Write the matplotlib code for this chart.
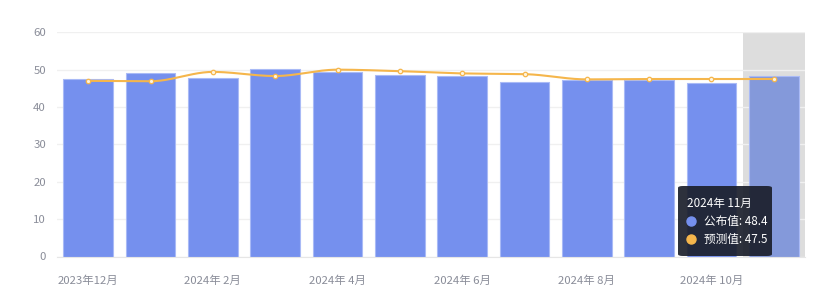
import numpy as np
import matplotlib
matplotlib.use("Agg")
import matplotlib.pyplot as plt
from matplotlib.patches import FancyBboxPatch

plt.rcParams['font.family'] = ['Noto Sans CJK SC', 'DejaVu Sans']

# 数据
months = ["2023年12月", "2024年 1月", "2024年 2月", "2024年 3月", "2024年 4月", "2024年 5月",
          "2024年 6月", "2024年 7月", "2024年 8月", "2024年 9月", "2024年 10月", "2024年 11月"]
actual = [47.4, 49.1, 47.8, 50.3, 49.3, 48.6, 48.4, 46.8, 47.2, 47.2, 46.4, 48.4]
forecast = [47.0, 46.9, 49.4, 48.3, 50.0, 49.6, 49.0, 48.8, 47.4, 47.5, 47.5, 47.5]
yticks = [0, 10, 20, 30, 40, 50, 60]

W, H = 831, 305
fig = plt.figure(figsize=(W / 100, H / 100), dpi=100)
ax = fig.add_axes([57 / W, (H - 256.5) / H, (805 - 57) / W, (256.5 - 32.3) / H])

x = np.arange(len(months))
hl = len(months) - 1  # 高亮的月份

# 阴影指示
ax.axvspan(hl - 0.5, hl + 0.5, color='#dddddd', zorder=0, lw=0)

bar_colors = ['#7590ee'] * len(months)
bar_colors[hl] = '#8499da'
ax.bar(x, actual, width=0.8, color=bar_colors, edgecolor='#a9baf6', linewidth=0.8, zorder=2)

# 平滑曲线 (单调三次 Hermite)
xs = np.linspace(0, len(months) - 1, 400)
f = np.array(forecast)
d = np.zeros_like(f)
for i in range(1, len(f) - 1):
    a, b = f[i] - f[i - 1], f[i + 1] - f[i]
    d[i] = 0 if a * b <= 0 else 2 * a * b / (a + b)
ys = []
for t in xs:
    i = min(int(t), len(f) - 2)
    s = t - i
    h00 = 2 * s**3 - 3 * s**2 + 1
    h10 = s**3 - 2 * s**2 + s
    h01 = -2 * s**3 + 3 * s**2
    h11 = s**3 - s**2
    ys.append(h00 * f[i] + h10 * d[i] + h01 * f[i + 1] + h11 * d[i + 1])
ax.plot(xs, ys, color='#f5b64c', lw=1.5, zorder=3)
ax.plot(x, forecast, ls='none', marker='o', ms=3.2, mfc='#fff4dc', mec='#f5b64c', mew=0.9, zorder=4)

ax.set_xlim(-0.5, len(months) - 0.5)
ax.set_ylim(0, 60)
ax.set_yticks(yticks)
ax.set_yticklabels([str(v) for v in yticks])
ax.set_xticks(x[::2])
ax.set_xticklabels(months[::2])
ax.tick_params(axis='both', length=0, colors='#8a8d99', labelsize=8.2)
ax.tick_params(axis='x', pad=14)
ax.tick_params(axis='y', pad=8)
ax.grid(axis='y', color='#f0f0f0', lw=1, zorder=0)
ax.set_axisbelow(True)
for s in ['top', 'right', 'left']:
    ax.spines[s].set_visible(False)
ax.spines['bottom'].set_color('#e6e6e6')

# 提示框
tip = FancyBboxPatch((678 / W, (H - 256) / H), 94 / W, 70 / H,
                     boxstyle='round,pad=0,rounding_size=0.006', transform=fig.transFigure,
                     facecolor='#1b1f2b', edgecolor='none', alpha=0.92, zorder=10)
fig.patches.append(tip)
fig.text(687 / W, (H - 203) / H, months[hl], color='white', fontsize=8.4, va='center', zorder=11)
fig.text(704 / W, (H - 221) / H, "公布值: %.1f" % actual[hl], color='white', fontsize=8.4, va='center', zorder=11)
fig.text(704 / W, (H - 239) / H, "预测值: %.1f" % forecast[hl], color='white', fontsize=8.4, va='center', zorder=11)
fig.lines.append(plt.Line2D([691 / W], [(H - 221) / H], transform=fig.transFigure, marker='o', ms=6.5,
                            color='#7590ee', ls='none', zorder=11))
fig.lines.append(plt.Line2D([691 / W], [(H - 239) / H], transform=fig.transFigure, marker='o', ms=6.5,
                            color='#f5b64c', ls='none', zorder=11))

fig.savefig('out.png', dpi=100)
